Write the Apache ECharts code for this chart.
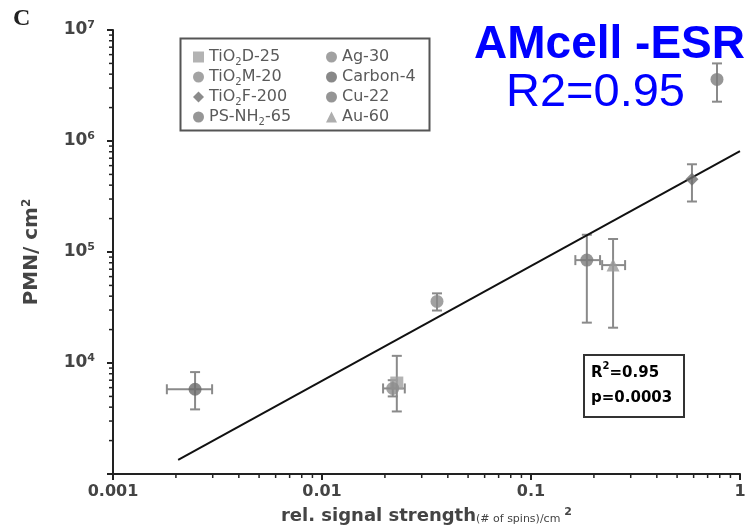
<!DOCTYPE html>
<html>
<head>
<meta charset="utf-8">
<script src="https://cdn.jsdelivr.net/npm/echarts@6/dist/echarts.min.js"></script>
<style>
  html, body { margin: 0; padding: 0; background: #fff; }
  #chart { width: 749px; height: 527px; }
</style>
</head>
<body>
<div id="chart"></div>
<script>
// materials, one point each
const names = ['TiO2D-25', 'TiO2M-20', 'TiO2F-200', 'PS-NH2-65', 'Ag-30', 'Carbon-4', 'Cu-22', 'Au-60']
const xVals = [0.0228, 0.0218, 0.589, 0.776, 0.0355, 0.00247, 0.185, 0.247]
const yVals = [6600, 5900, 452000, 3590000, 35900, 5800, 84500, 76200]
const xLow = [0.0228, 0.0196, 0.589, 0.776, 0.0355, 0.00181, 0.163, 0.219]
const xHigh = [0.0228, 0.0249, 0.589, 0.776, 0.0355, 0.00298, 0.214, 0.282]
const yLow = [3660, 5000, 285000, 2260000, 29700, 3820, 23100, 20800]
const yHigh = [11600, 7000, 617000, 5000000, 42400, 8280, 143000, 131000]

// regression line end points
const fitX = [0.00205, 1]
const fitY = [1340, 811000]

const xTicks = [0.001, 0.01, 0.1, 1]
const yTicks = [1000, 10000, 100000, 1000000, 10000000]

const symbols = ['rect', 'circle', 'diamond', 'circle', 'circle', 'circle', 'circle', 'triangle']
const colors = ['#a0a0a0', '#8c8c8c', '#6e6e6e', '#7c7c7c', '#8a8a8a', '#6a6a6a', '#7a7a7a', '#9a9a9a']

const chart = echarts.init(document.getElementById('chart'))

// log minor ticks 2..9 for each decade
const minorX = []
for (let i = 0; i < xTicks.length - 1; i++) {
  for (let m = 2; m <= 9; m++) minorX.push([xTicks[i] * m, yTicks[0]])
}
const minorY = []
for (let i = 0; i < yTicks.length - 1; i++) {
  for (let m = 2; m <= 9; m++) minorY.push([xTicks[0], yTicks[i] * m])
}

function legendName(n) {
  return n.replace('TiO2', 'TiO{sub|2}').replace('NH2', 'NH{sub|2}')
}

function supLabel(v) {
  const e = Math.round(Math.log10(v))
  if (e === 3) return ''
  return '{b|10}{s|' + e + '}'
}

const errData = names.map((n, i) => [xVals[i], yVals[i], xLow[i], xHigh[i], yLow[i], yHigh[i]])

const series = [
  {
    type: 'custom',
    name: 'err',
    z: 2,
    silent: true,
    data: errData,
    encode: { x: 0, y: 1 },
    renderItem(params, api) {
      const x = api.value(0), y = api.value(1)
      const yl = api.coord([x, api.value(4)])
      const yh = api.coord([x, api.value(5)])
      const xl = api.coord([api.value(2), y])
      const xh = api.coord([api.value(3), y])
      const cap = 5
      const st = { stroke: '#8a8a8a', lineWidth: 2 }
      const kids = [
        { type: 'line', shape: { x1: yl[0], y1: yl[1], x2: yh[0], y2: yh[1] }, style: st },
        { type: 'line', shape: { x1: yl[0] - cap, y1: yl[1], x2: yl[0] + cap, y2: yl[1] }, style: st },
        { type: 'line', shape: { x1: yh[0] - cap, y1: yh[1], x2: yh[0] + cap, y2: yh[1] }, style: st }
      ]
      if (xh[0] - xl[0] > 1) {
        kids.push(
          { type: 'line', shape: { x1: xl[0], y1: xl[1], x2: xh[0], y2: xh[1] }, style: st },
          { type: 'line', shape: { x1: xl[0], y1: xl[1] - cap, x2: xl[0], y2: xl[1] + cap }, style: st },
          { type: 'line', shape: { x1: xh[0], y1: xh[1] - cap, x2: xh[0], y2: xh[1] + cap }, style: st }
        )
      }
      return { type: 'group', children: kids }
    }
  },
  {
    type: 'line',
    name: 'fit',
    z: 3,
    silent: true,
    symbol: 'none',
    data: fitX.map((x, i) => [x, fitY[i]]),
    lineStyle: { color: '#111', width: 2 }
  },
  {
    type: 'custom',
    name: 'minorX',
    silent: true,
    data: minorX,
    renderItem(params, api) {
      const p = api.coord([api.value(0), api.value(1)])
      return { type: 'line', shape: { x1: p[0], y1: p[1], x2: p[0], y2: p[1] + 4 }, style: { stroke: '#222', lineWidth: 1.5 } }
    }
  },
  {
    type: 'custom',
    name: 'minorY',
    silent: true,
    data: minorY,
    renderItem(params, api) {
      const p = api.coord([api.value(0), api.value(1)])
      return { type: 'line', shape: { x1: p[0], y1: p[1], x2: p[0] - 4, y2: p[1] }, style: { stroke: '#222', lineWidth: 1.5 } }
    }
  }
]

names.forEach((n, i) => {
  series.push({
    type: 'scatter',
    name: n,
    z: 4,
    symbol: symbols[i],
    symbolSize: 13,
    itemStyle: { color: colors[i] },
    data: [[xVals[i], yVals[i]]]
  })
})

const legendText = {
  fontFamily: 'DejaVu Sans',
  fontSize: 16,
  color: '#5a5a5a',
  lineHeight: 20,
  rich: {
    sub: { fontFamily: 'DejaVu Sans', fontSize: 10, color: '#5a5a5a', verticalAlign: 'bottom', lineHeight: 12 }
  }
}

function legendCol(list, left) {
  return {
    data: list,
    orient: 'vertical',
    left: left,
    top: 47,
    padding: 0,
    itemGap: 0,
    itemWidth: 11,
    itemHeight: 11,
    formatter: legendName,
    textStyle: legendText
  }
}

const option = {
  animation: false,
  grid: { left: 113, right: 9, top: 30, bottom: 53, outerBoundsMode: 'none' },
  legend: [legendCol(names.slice(0, 4), 193), legendCol(names.slice(4), 326)],
  xAxis: {
    type: 'log',
    min: 0.001,
    max: 1,
    logBase: 10,
    splitLine: { show: false },
    axisLine: { lineStyle: { color: '#222', width: 2 } },
    axisTick: { length: 6, lineStyle: { color: '#222', width: 2 } },
    axisLabel: {
      fontFamily: 'DejaVu Sans',
      fontWeight: 'bold',
      fontSize: 16,
      color: '#444',
      margin: 10,
      formatter: v => String(v)
    },
    name: '{a|rel. signal strength}{c|(# of spins)/cm}{s|2}',
    nameLocation: 'middle',
    nameGap: 33,
    nameTextStyle: {
      rich: {
        a: { fontFamily: 'DejaVu Sans', fontWeight: 'bold', fontSize: 18, color: '#444' },
        c: { fontFamily: 'DejaVu Sans', fontSize: 11, color: '#444', verticalAlign: 'bottom' },
        s: { fontFamily: 'DejaVu Sans', fontWeight: 'bold', fontSize: 11, color: '#444', verticalAlign: 'top', padding: [0, 0, 0, 4] }
      }
    }
  },
  yAxis: {
    type: 'log',
    min: 1000,
    max: 10000000,
    logBase: 10,
    splitLine: { show: false },
    axisLine: { lineStyle: { color: '#222', width: 2 } },
    axisTick: { length: 6, lineStyle: { color: '#222', width: 2 } },
    axisLabel: {
      margin: 18,
      formatter: supLabel,
      rich: {
        b: { fontFamily: 'DejaVu Sans', fontWeight: 'bold', fontSize: 17, color: '#444', lineHeight: 20 },
        s: { fontFamily: 'DejaVu Sans', fontWeight: 'bold', fontSize: 11, color: '#444', verticalAlign: 'top', lineHeight: 12 }
      }
    },
    name: '{a|PMN/ cm}{s|2}',
    nameLocation: 'middle',
    nameGap: 70,
    nameTextStyle: {
      rich: {
        a: { fontFamily: 'DejaVu Sans', fontWeight: 'bold', fontSize: 20, color: '#444', lineHeight: 22 },
        s: { fontFamily: 'DejaVu Sans', fontWeight: 'bold', fontSize: 12, color: '#444', verticalAlign: 'top', lineHeight: 12 }
      }
    }
  },
  graphic: [
    {
      type: 'rect', left: 178, top: 36,
      shape: { width: 249, height: 92 },
      style: { fill: 'none', stroke: '#555', lineWidth: 2 }
    },
    {
      type: 'text', left: 13, top: 7,
      style: { text: 'C', font: 'bold 24px "Liberation Serif"', fill: '#222' }
    },
    {
      type: 'text', right: 4, top: 22,
      style: { text: 'AMcell -ESR', font: 'bold 46px Arial', fill: '#0000ff' }
    },
    {
      type: 'text', left: 506, top: 70,
      style: { text: 'R2=0.95', font: '47px Arial', fill: '#0000ff' }
    },
    {
      type: 'rect', left: 583, top: 354,
      shape: { width: 100, height: 62 },
      style: { fill: '#fff', stroke: '#333', lineWidth: 2 }
    },
    {
      type: 'text', left: 591, top: 361,
      style: {
        text: '{a|R}{s|2}{a|=0.95}\n{a|p=0.0003}',
        rich: {
          a: { fontFamily: 'DejaVu Sans', fontWeight: 'bold', fontSize: 15, color: '#333', lineHeight: 25 },
          s: { fontFamily: 'DejaVu Sans', fontWeight: 'bold', fontSize: 10, color: '#333', verticalAlign: 'top', lineHeight: 14 }
        }
      }
    }
  ],
  series
}

chart.setOption(option)
</script>
</body>
</html>
